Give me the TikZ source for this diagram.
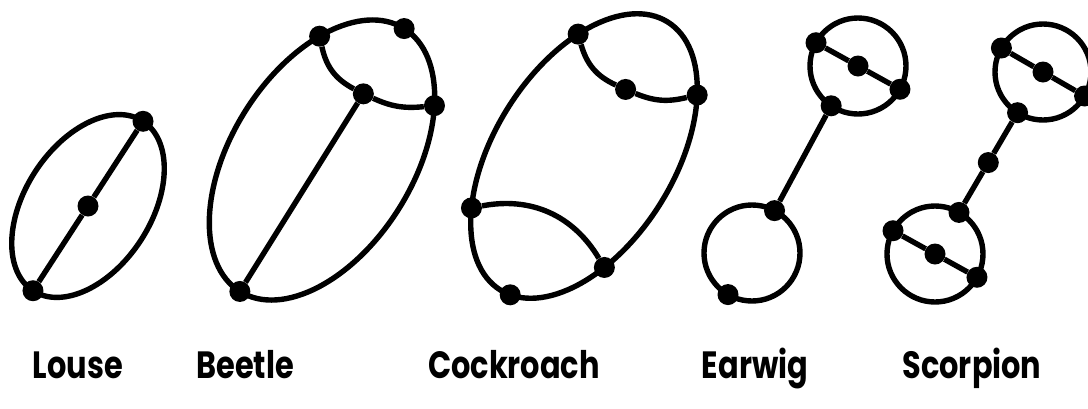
\documentclass[tikz,border=0pt]{standalone}
\usepackage{fontspec}
\newfontfamily\labfont[FakeStretch=0.8]{Poppins}
\usetikzlibrary{calc}
\begin{document}
\begin{tikzpicture}[x=1pt,y=1pt,
  edge/.style={line width=5.4pt},
  vtx/.style={circle,fill=black,inner sep=0pt,minimum size=21pt},
  lab/.style={anchor=base,font=\labfont\bfseries\fontsize{38}{40}\selectfont}]
\useasboundingbox (0,0) rectangle (1088,-408);
% Louse
\begin{scope}[shift={(88,-206)},rotate=57]
  \draw[edge] (0,0) ellipse [x radius=101pt, y radius=63pt];
  \node[vtx] (l1) at (0:101 and 63) {};
  \node[vtx] (l2) at (180:101 and 63) {};
  \node[vtx] (lc) at (0,0) {};
\end{scope}
\draw[edge] (l2) -- (lc) -- (l1);
% Beetle
\begin{scope}[shift={(322,-160)},rotate=58]
  \draw[edge] (0,0) ellipse [x radius=155pt, y radius=91pt];
  \node[vtx] (b0) at (0:155 and 91) {};
  \node[vtx] (b1) at (48:155 and 91) {};
  \node[vtx] (b2) at (-47:155 and 91) {};
  \node[vtx] (b3) at (180:155 and 91) {};
  \node[vtx] (bi) at (78,0) {};
\end{scope}
\draw[edge] (b1) to[bend right=25] (bi);
\draw[edge] (bi) to[bend right=15] (b2);
\draw[edge] (bi) -- (b3);
% Cockroach
\begin{scope}[shift={(584,-156)},rotate=58]
  \draw[edge] (0,0) ellipse [x radius=158pt, y radius=90pt];
  \node[vtx] (c1) at (50.6:158 and 90) {};
  \node[vtx] (c2) at (-45:158 and 90) {};
  \node[vtx] (c3) at (131:158 and 90) {};
  \node[vtx] (c4) at (238:158 and 90) {};
  \node[vtx] (c5) at (187:158 and 90) {};
  \node[vtx] (cm) at (78.5,0) {};
\end{scope}
\draw[edge] (c1) to[bend right=25] (cm);
\draw[edge] (cm) to[bend right=18] (c2);
\draw[edge] (c3) to[bend left=35] (c4);
% Earwig
\draw[edge] (858,-66) circle [radius=48pt];
\draw[edge] (752,-253) circle [radius=48pt];
\node[vtx] (e1) at ($(858,-66)+(151:48)$) {};
\node[vtx] (ec) at (858,-66) {};
\node[vtx] (e2) at ($(858,-66)+(331:48)$) {};
\node[vtx] (e3) at ($(858,-66)+(236:48)$) {};
\node[vtx] (e4) at ($(752,-253)+(62:48)$) {};
\node[vtx] (e5) at ($(752,-253)+(240:48)$) {};
\draw[edge] (e1) -- (ec) -- (e2);
\draw[edge] (e3) -- (e4);
% Scorpion
\draw[edge] (1043,-72) circle [radius=48pt];
\draw[edge] (935,-254) circle [radius=48pt];
\node[vtx] (s1) at ($(1043,-72)+(150:48)$) {};
\node[vtx] (sc) at (1043,-72) {};
\node[vtx] (s2) at ($(1043,-72)+(330:48)$) {};
\node[vtx] (s3) at ($(1043,-72)+(238:48)$) {};
\node[vtx] (s4) at ($(935,-254)+(60:48)$) {};
\node[vtx] (s5) at ($(935,-254)+(151:48)$) {};
\node[vtx] (sd) at (935,-254) {};
\node[vtx] (s6) at ($(935,-254)+(331:48)$) {};
\node[vtx] (sm) at ($(s3)!0.5!(s4)$) {};
\draw[edge] (s1) -- (sc) -- (s2);
\draw[edge] (s3) -- (sm) -- (s4);
\draw[edge] (s5) -- (sd) -- (s6);
% Labels
\node[lab] (tl) at (78,-378) {Louse};
\node[lab] (tb) at (245,-378) {Beetle};
\node[lab] (tc) at (514,-378) {Cockroach};
\node[lab] (te) at (755,-378) {Earwig};
\node[lab] (ts) at (972,-378) {Scorpion};
\end{tikzpicture}
\end{document}
